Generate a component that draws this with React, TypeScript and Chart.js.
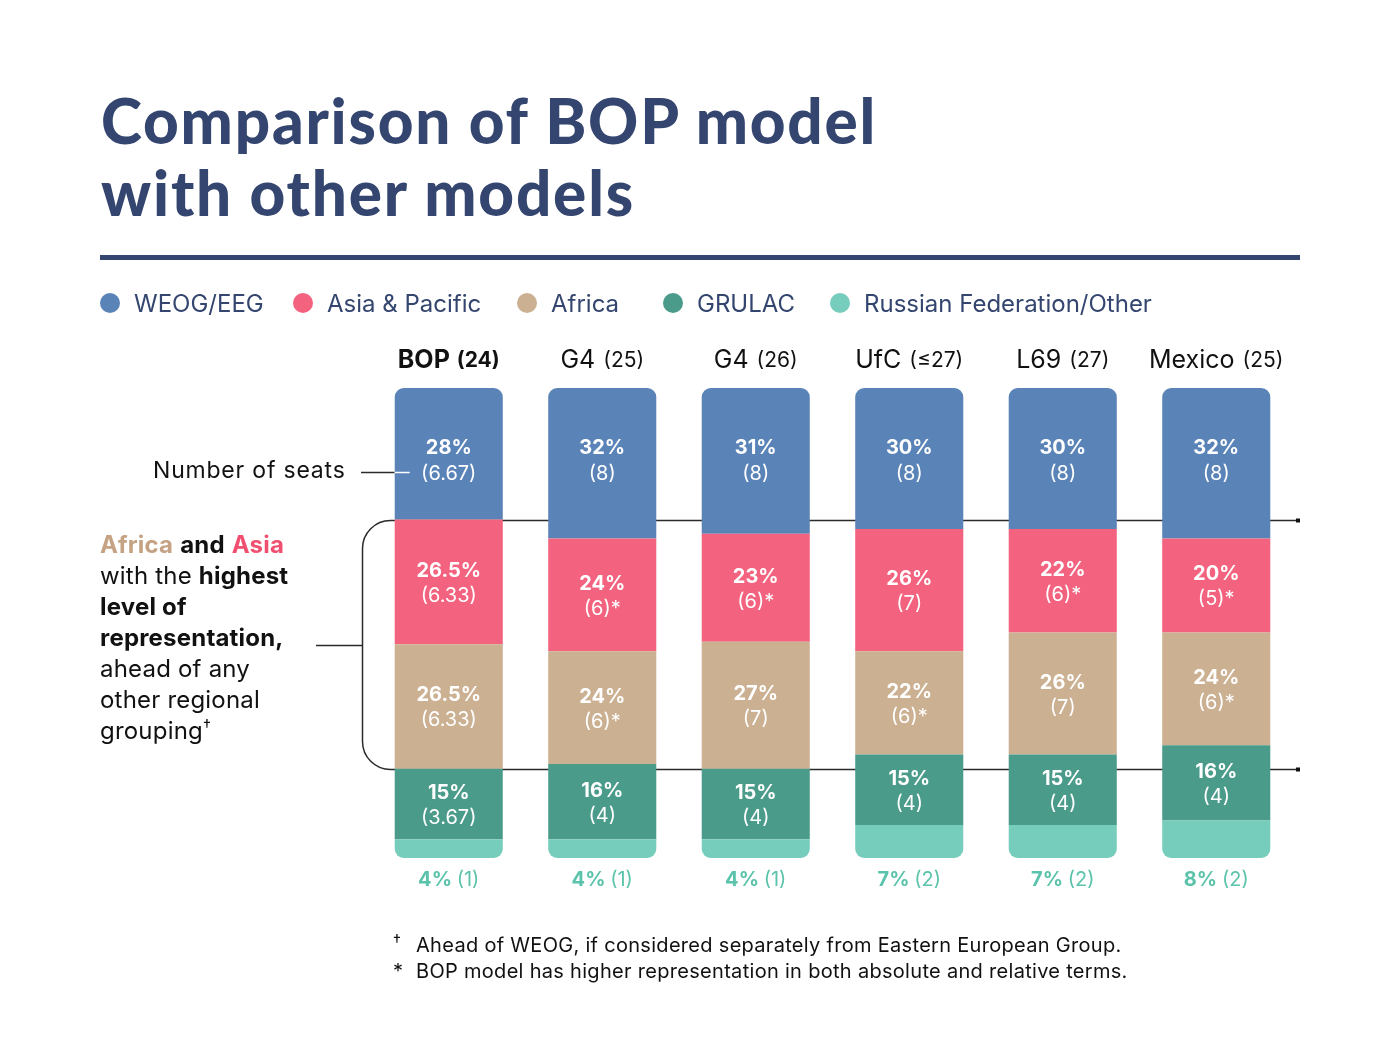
import React, { useEffect, useRef } from "react";
import { Chart, registerables } from "chart.js";

Chart.register(...registerables);

const categories = ["BOP", "G4", "G4", "UfC", "L69", "Mexico"];
const totals = ["(24)", "(25)", "(26)", "(\u226427)", "(27)", "(25)"];

const weogPct = [28, 32, 31, 30, 30, 32];
const weogSeats = ["(6.67)", "(8)", "(8)", "(8)", "(8)", "(8)"];
const asiaPct = [26.5, 24, 23, 26, 22, 20];
const asiaSeats = ["(6.33)", "(6)*", "(6)*", "(7)", "(6)*", "(5)*"];
const africaPct = [26.5, 24, 27, 22, 26, 24];
const africaSeats = ["(6.33)", "(6)*", "(7)", "(6)*", "(7)", "(6)*"];
const grulacPct = [15, 16, 15, 15, 15, 16];
const grulacSeats = ["(3.67)", "(4)", "(4)", "(4)", "(4)", "(4)"];
const otherPct = [4, 4, 4, 7, 7, 8];
const otherSeats = ["(1)", "(1)", "(1)", "(2)", "(2)", "(2)"];

const seriesNames = ["WEOG/EEG", "Asia & Pacific", "Africa", "GRULAC", "Russian Federation/Other"];

const C_WEOG = "#5a83b7";
const C_ASIA = "#f3627e";
const C_AFRICA = "#cbb092";
const C_GRULAC = "#4b9b8b";
const C_OTHER = "#77cdbc";
const C_NAVY = "#34466f";
const C_TEAL_TEXT = "#5bc3ab";
const FONT = "Inter, 'Noto Sans', sans-serif";

const seriesColors = [C_WEOG, C_ASIA, C_AFRICA, C_GRULAC, C_OTHER];

const fmtPct = (v: number) => `${v}%`;

export default function App() {
  const canvasRef = useRef<HTMLCanvasElement | null>(null);

  useEffect(() => {
    document.body.style.margin = "0";
    const canvas = canvasRef.current;
    if (!canvas) return;

    // dataset indexes: 0 other, 1 grulac, 2 africa, 3 asia, 4 weog
    const seatLabels = [otherSeats, grulacSeats, africaSeats, asiaSeats, weogSeats];

    const overlay = {
      id: "overlay",
      beforeDatasetsDraw(chart: any) {
        const ctx = chart.ctx;
        const area = chart.chartArea;
        const africaMeta = chart.getDatasetMeta(2);
        const asiaMeta = chart.getDatasetMeta(3);
        const weogMeta = chart.getDatasetMeta(4);
        const a0 = asiaMeta.data[0].getProps(["x", "y", "base", "width"], true);
        const f0 = africaMeta.data[0].getProps(["x", "y", "base", "width"], true);
        const w0 = weogMeta.data[0].getProps(["x", "y", "base", "width"], true);
        const yTop = Math.round(a0.y) + 0.5;
        const yBot = Math.round(f0.base) + 0.5;
        const bx = 362.5;
        const r = 28;
        const xr = area.right + 5;
        ctx.save();
        ctx.strokeStyle = "#2b2b2b";
        ctx.lineWidth = 1.5;
        ctx.beginPath();
        ctx.moveTo(xr, yTop);
        ctx.lineTo(bx + r, yTop);
        ctx.arcTo(bx, yTop, bx, yTop + r, r);
        ctx.lineTo(bx, yBot - r);
        ctx.arcTo(bx, yBot, bx + r, yBot, r);
        ctx.lineTo(xr, yBot);
        ctx.stroke();
        const ym = Math.round((yTop + yBot) / 2) + 0.5;
        ctx.beginPath();
        ctx.moveTo(316, ym);
        ctx.lineTo(bx, ym);
        ctx.stroke();
        ctx.fillStyle = "#111";
        ctx.fillRect(xr - 2, yTop - 2, 4, 4);
        ctx.fillRect(xr - 2, yBot - 2, 4, 4);
        const ys = Math.round(w0.y + 84) + 0.5;
        ctx.beginPath();
        ctx.moveTo(361, ys);
        ctx.lineTo(w0.x - w0.width / 2, ys);
        ctx.stroke();
        ctx.restore();
      },
      afterDatasetsDraw(chart: any) {
        const ctx = chart.ctx;
        ctx.save();
        ctx.textBaseline = "middle";
        const w0 = chart.getDatasetMeta(4).data[0].getProps(["x", "y", "base", "width"], true);
        const ys = Math.round(w0.y + 84) + 0.5;
        ctx.strokeStyle = "#ffffff";
        ctx.lineWidth = 1.5;
        ctx.beginPath();
        ctx.moveTo(w0.x - w0.width / 2, ys);
        ctx.lineTo(w0.x - w0.width / 2 + 15, ys);
        ctx.stroke();

        // category labels
        const weogMeta = chart.getDatasetMeta(4);
        categories.forEach((name, j) => {
          const el = weogMeta.data[j].getProps(["x", "y"], true);
          const bold = j === 0;
          const f1 = `${bold ? 700 : 400} 25px ${FONT}`;
          const f2 = `${bold ? 700 : 400} 21px ${FONT}`;
          ctx.font = f1;
          const t1 = name + " ";
          const w1 = ctx.measureText(t1).width + 1;
          ctx.font = f2;
          const w2 = ctx.measureText(totals[j]).width;
          const x0 = el.x - (w1 + w2) / 2;
          ctx.fillStyle = "#111111";
          ctx.textAlign = "left";
          ctx.font = f1;
          ctx.fillText(t1, x0, 360);
          ctx.font = f2;
          ctx.fillText(totals[j], x0 + w1, 361);
        });

        // value labels
        for (let d = 1; d <= 4; d++) {
          const meta = chart.getDatasetMeta(d);
          const vals = chart.data.datasets[d].data as number[];
          meta.data.forEach((elem: any, j: number) => {
            const el = elem.getProps(["x", "y", "base"], true);
            let y1: number;
            let y2: number;
            if (d === 4) {
              y1 = el.y + 60;
              y2 = el.y + 86;
            } else {
              const c = (el.y + el.base) / 2;
              y1 = c - 11;
              y2 = c + 14;
            }
            ctx.fillStyle = "#ffffff";
            ctx.textAlign = "center";
            ctx.font = `700 20px ${FONT}`;
            ctx.fillText(fmtPct(vals[j]), el.x, y1);
            ctx.font = `400 20px ${FONT}`;
            ctx.fillText(seatLabels[d][j], el.x, y2);
          });
        }
        // bottom "other" labels
        const om = chart.getDatasetMeta(0);
        const ov = chart.data.datasets[0].data as number[];
        om.data.forEach((elem: any, j: number) => {
          const el = elem.getProps(["x", "y", "base"], true);
          const t1 = fmtPct(ov[j]) + " ";
          const t2 = otherSeats[j];
          ctx.font = `700 20px ${FONT}`;
          const w1 = ctx.measureText(t1).width;
          ctx.font = `400 20px ${FONT}`;
          const w2 = ctx.measureText(t2).width;
          const x0 = el.x - (w1 + w2) / 2;
          ctx.textAlign = "left";
          ctx.fillStyle = C_TEAL_TEXT;
          ctx.font = `700 20px ${FONT}`;
          ctx.fillText(t1, x0, el.base + 22);
          ctx.font = `400 20px ${FONT}`;
          ctx.fillText(t2, x0 + w1, el.base + 22);
        });
        ctx.restore();
      },
    };

    const mk = (label: string, data: number[], color: string, radius: any) => ({
      label,
      data,
      backgroundColor: color,
      borderWidth: 0,
      borderSkipped: false as const,
      borderRadius: radius,
      stack: "s",
      barPercentage: 0.704,
      categoryPercentage: 1,
    });
    const none = { topLeft: 0, topRight: 0, bottomLeft: 0, bottomRight: 0 };

    const chart = new Chart(canvas, {
      type: "bar",
      data: {
        labels: categories,
        datasets: [
          mk(seriesNames[4], otherPct, C_OTHER, { topLeft: 0, topRight: 0, bottomLeft: 9, bottomRight: 9 }),
          mk(seriesNames[3], grulacPct, C_GRULAC, none),
          mk(seriesNames[2], africaPct, C_AFRICA, none),
          mk(seriesNames[1], asiaPct, C_ASIA, none),
          mk(seriesNames[0], weogPct, C_WEOG, { topLeft: 9, topRight: 9, bottomLeft: 0, bottomRight: 0 }),
        ] as any,
      },
      options: {
        responsive: true,
        maintainAspectRatio: false,
        animation: false,
        layout: { padding: { left: 372, right: 107, top: 388, bottom: 182 } },
        scales: {
          x: { stacked: true, display: false },
          y: { stacked: true, display: false, min: 0, max: 100 },
        },
        plugins: { legend: { display: false }, tooltip: { enabled: false } },
      },
      plugins: [overlay],
    });
    return () => chart.destroy();
  }, []);

  const legendX = [100, 293, 517, 663, 830];

  return (
    <div style={{ position: "relative", width: 1400, height: 1040, background: "#fff", overflow: "hidden", fontFamily: FONT }}>
      <div style={{ position: "absolute", left: 0, top: 0, width: 1400, height: 1040 }}>
        <canvas ref={canvasRef} />
      </div>
      <div
        style={{
          position: "absolute",
          left: 101,
          top: 84,
          fontFamily: "Lato, sans-serif",
          fontWeight: 900,
          fontSize: 62,
          lineHeight: "72px",
          color: C_NAVY,
          letterSpacing: 1.8,
          whiteSpace: "nowrap",
        }}
      >
        Comparison of BOP model
        <br />
        with other models
      </div>
      <div style={{ position: "absolute", left: 100, top: 255, width: 1200, height: 5, background: C_NAVY }} />
      {seriesNames.map((n, i) => (
        <div
          key={n}
          style={{
            position: "absolute",
            left: legendX[i],
            top: 288,
            height: 30,
            display: "flex",
            alignItems: "center",
            whiteSpace: "nowrap",
          }}
        >
          <span style={{ width: 20, height: 20, borderRadius: 10, background: seriesColors[i], display: "inline-block" }} />
          <span style={{ marginLeft: 14, fontSize: 24, color: C_NAVY }}>{n}</span>
        </div>
      ))}
      <div
        style={{
          position: "absolute",
          left: 153,
          top: 455,
          fontSize: 23,
          letterSpacing: 0.8,
          lineHeight: "30px",
          color: "#111",
          whiteSpace: "nowrap",
        }}
      >
        Number of seats
      </div>
      <div
        style={{
          position: "absolute",
          left: 100,
          top: 529,
          fontSize: 24,
          letterSpacing: 0.2,
          lineHeight: "31px",
          color: "#111",
          whiteSpace: "nowrap",
        }}
      >
        <div>
          <b style={{ color: "#c4a283" }}>Africa</b> <b>and</b> <b style={{ color: "#f04f6f" }}>Asia</b>
        </div>
        <div>
          with the <b>highest</b>
        </div>
        <div>
          <b>level of</b>
        </div>
        <div>
          <b>representation,</b>
        </div>
        <div>ahead of any</div>
        <div>other regional</div>
        <div>
          grouping<sup style={{ fontSize: 16, lineHeight: 0, verticalAlign: "8px" }}>{"\u2020"}</sup>
        </div>
      </div>
      <div
        style={{
          position: "absolute",
          left: 393,
          top: 927,
          fontSize: 20,
          letterSpacing: 0.3,
          lineHeight: "26px",
          color: "#111",
          whiteSpace: "nowrap",
        }}
      >
        <div>
          <span style={{ display: "inline-block", width: 23, fontSize: 16, verticalAlign: "6px" }}>{"\u2020"}</span>
          Ahead of WEOG, if considered separately from Eastern European Group.
        </div>
        <div>
          <span style={{ display: "inline-block", width: 23 }}>*</span>
          BOP model has higher representation in both absolute and relative terms.
        </div>
      </div>
    </div>
  );
}
